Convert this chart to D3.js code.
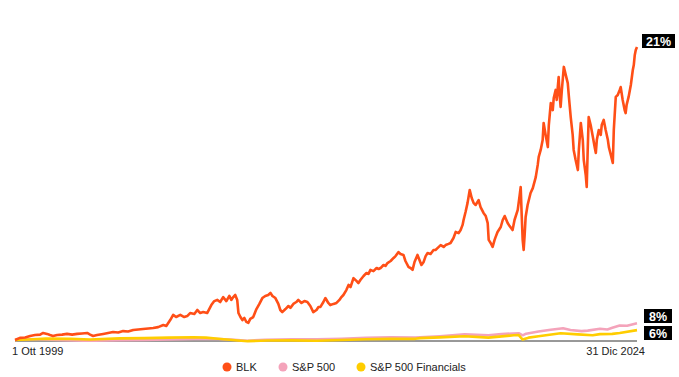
<!DOCTYPE html>
<html>
<head>
<meta charset="utf-8">
<script src="https://cdn.jsdelivr.net/npm/d3@7"></script>
<style>
  body { margin: 0; background: #fff; }
  #grafica { width: 679px; height: 377px; }
  text { font-family: 'Liberation Sans', Arial, sans-serif; }
</style>
</head>
<body>
<div id="grafica"></div>
<script>
// serie: [anno decimale, rendimento cumulato (multiplo - 1)]
blk = [
  [1999.75, 0], [1999.95, 0.9], [2000.16, 1.1], [2000.36, 1.7], [2000.56, 2.1], [2000.77, 2.3],
  [2000.89, 3.0], [2001.05, 2.6], [2001.17, 2.1], [2001.29, 1.7], [2001.46, 2.1], [2001.66, 2.3],
  [2001.86, 2.6], [2002.07, 2.3], [2002.27, 2.6], [2002.47, 2.8], [2002.68, 3.0], [2002.80, 2.3],
  [2002.92, 1.7], [2003.08, 2.1], [2003.33, 2.6], [2003.53, 3.0], [2003.73, 3.4], [2003.94, 3.2],
  [2004.14, 3.8], [2004.34, 3.6], [2004.55, 4.3], [2004.75, 4.5], [2004.95, 4.7], [2005.16, 4.9],
  [2005.36, 5.1], [2005.56, 5.5], [2005.77, 6.4], [2005.89, 6.0], [2006.05, 8.5], [2006.17, 10.7],
  [2006.29, 9.8], [2006.46, 10.7], [2006.62, 9.8], [2006.74, 10.2], [2006.86, 11.5], [2007.03, 11.1],
  [2007.15, 12.8], [2007.27, 11.5], [2007.39, 11.9], [2007.55, 11.5], [2007.72, 14.9], [2007.84, 16.6],
  [2007.96, 17.1], [2008.08, 16.2], [2008.20, 18.3], [2008.33, 16.6], [2008.45, 18.8], [2008.53, 17.1],
  [2008.61, 18.3], [2008.69, 19.2], [2008.77, 17.1], [2008.82, 11.5], [2008.90, 9.8], [2008.98, 8.5],
  [2009.06, 9.4], [2009.14, 7.7], [2009.22, 7.3], [2009.30, 9.0], [2009.42, 9.8], [2009.55, 13.2],
  [2009.67, 15.4], [2009.79, 17.9], [2009.91, 18.8], [2010.03, 19.2], [2010.12, 20.1], [2010.20, 18.8],
  [2010.32, 17.9], [2010.44, 15.4], [2010.52, 12.8], [2010.60, 11.9], [2010.73, 13.2], [2010.85, 14.5],
  [2010.93, 13.7], [2011.05, 15.4], [2011.17, 16.2], [2011.25, 17.1], [2011.38, 15.8], [2011.50, 16.6],
  [2011.62, 16.2], [2011.74, 14.5], [2011.86, 11.9], [2011.99, 12.8], [2012.07, 14.1], [2012.15, 14.1],
  [2012.27, 16.2], [2012.35, 17.9], [2012.47, 15.8], [2012.55, 14.9], [2012.68, 15.4], [2012.80, 15.8],
  [2012.92, 17.1], [2013.00, 18.3], [2013.08, 19.2], [2013.20, 21.3], [2013.29, 23.5], [2013.37, 22.6],
  [2013.49, 26.4], [2013.61, 25.2], [2013.69, 24.3], [2013.77, 25.6], [2013.90, 27.3], [2014.02, 28.6],
  [2014.10, 28.2], [2014.18, 29.9], [2014.30, 29.4], [2014.43, 30.7], [2014.51, 30.3], [2014.59, 30.7],
  [2014.71, 32.0], [2014.79, 31.6], [2014.87, 32.8], [2015.00, 33.7], [2015.12, 35.0], [2015.20, 35.8],
  [2015.32, 37.5], [2015.40, 36.7], [2015.52, 36.3], [2015.60, 33.7], [2015.73, 31.1], [2015.81, 30.7],
  [2015.89, 29.9], [2015.97, 33.3], [2016.09, 36.3], [2016.17, 34.1], [2016.25, 32.0], [2016.34, 33.3],
  [2016.42, 35.8], [2016.50, 37.1], [2016.62, 36.7], [2016.74, 38.4], [2016.82, 38.4], [2016.90, 39.2],
  [2017.03, 40.5], [2017.15, 39.7], [2017.23, 40.5], [2017.35, 41.0], [2017.43, 41.4], [2017.55, 43.5],
  [2017.64, 46.1], [2017.76, 45.6], [2017.84, 46.9], [2017.92, 49.1], [2017.96, 51.2], [2018.04, 54.6],
  [2018.12, 58.4], [2018.21, 64.0], [2018.29, 60.6], [2018.37, 58.4], [2018.45, 57.6], [2018.57, 59.7],
  [2018.65, 56.7], [2018.77, 54.2], [2018.86, 52.9], [2018.94, 49.9], [2018.98, 42.7], [2019.06, 41.4],
  [2019.14, 39.7], [2019.22, 42.7], [2019.26, 43.9], [2019.34, 46.1], [2019.47, 48.2], [2019.55, 51.2],
  [2019.63, 52.9], [2019.75, 49.9], [2019.83, 48.6], [2019.95, 46.9], [2020.03, 51.2], [2020.16, 55.5],
  [2020.24, 61.9], [2020.28, 65.3], [2020.32, 53.3], [2020.36, 42.7], [2020.40, 38.4], [2020.44, 44.8],
  [2020.48, 52.5], [2020.56, 57.6], [2020.68, 62.7], [2020.77, 64.8], [2020.89, 69.5], [2020.97, 74.7],
  [2021.01, 78.1], [2021.09, 81.1], [2021.17, 85.3], [2021.21, 92.6], [2021.29, 87.5], [2021.38, 82.3],
  [2021.42, 91.7], [2021.50, 101.1], [2021.58, 98.1], [2021.62, 103.2], [2021.70, 106.7], [2021.74, 102.4],
  [2021.82, 112.2], [2021.86, 104.5], [2021.90, 99.4], [2021.95, 106.7], [2022.03, 116.5], [2022.11, 113.0],
  [2022.19, 109.6], [2022.23, 104.5], [2022.31, 95.1], [2022.39, 87.5], [2022.43, 81.1], [2022.51, 76.8],
  [2022.60, 72.5], [2022.64, 81.1], [2022.72, 92.6], [2022.80, 85.3], [2022.84, 76.8], [2022.92, 70.4],
  [2022.96, 65.3], [2023.00, 81.1], [2023.04, 95.1], [2023.12, 91.7], [2023.21, 86.6], [2023.29, 81.9],
  [2023.33, 79.8], [2023.37, 85.3], [2023.45, 89.6], [2023.53, 87.5], [2023.57, 91.7], [2023.65, 93.9],
  [2023.73, 89.6], [2023.82, 85.3], [2023.86, 82.3], [2023.94, 78.9], [2024.02, 75.5], [2024.06, 89.6],
  [2024.14, 103.7], [2024.22, 104.5], [2024.30, 106.7], [2024.34, 107.9], [2024.42, 102.4], [2024.50, 98.1],
  [2024.54, 96.8], [2024.58, 100.3], [2024.66, 103.7], [2024.75, 108.8], [2024.83, 115.2], [2024.87, 117.3],
  [2024.91, 121.6], [2024.95, 123.7], [2025.00, 125.0]
]

sp500 = [
  [1999.75, 0], [2000.2, 0.4], [2000.7, 0.3], [2001.5, 0.0], [2002.5, -0.25], [2003.0, -0.3],
  [2004.0, -0.05], [2005.0, 0.05], [2006.0, 0.2], [2007.0, 0.4], [2007.8, 0.55], [2008.5, 0.2],
  [2009.2, -0.3], [2009.9, 0.05], [2011.0, 0.25], [2012.0, 0.3], [2013.0, 0.5], [2014.0, 0.9],
  [2015.0, 1.1], [2016.0, 1.0], [2017.0, 1.6], [2018.0, 2.4], [2018.97, 2.0], [2019.5, 2.5],
  [2020.2, 2.9], [2020.36, 2.0], [2020.5, 2.7], [2021.0, 3.6], [2021.5, 4.4], [2022.0, 5.0],
  [2022.3, 4.3], [2022.75, 3.8], [2023.0, 4.0], [2023.5, 4.8], [2023.8, 4.5], [2024.0, 5.2],
  [2024.3, 6.2], [2024.6, 6.1], [2025.0, 7.1]
]

financials = [
  [1999.75, 0], [2000.5, 0.3], [2001.0, 0.6], [2002.0, 0.5], [2002.8, 0.2], [2004.0, 0.7],
  [2005.0, 0.8], [2006.0, 1.0], [2007.0, 1.2], [2007.5, 1.0], [2008.0, 0.5], [2008.8, -0.2],
  [2009.2, -0.5], [2010.0, -0.2], [2011.0, -0.15], [2012.0, -0.3], [2013.0, 0.0], [2014.0, 0.3],
  [2015.0, 0.5], [2016.0, 0.5], [2016.2, 0.8], [2017.0, 1.1], [2018.0, 1.6], [2018.97, 1.0],
  [2020.0, 2.0], [2020.2, 2.1], [2020.36, 0.2], [2020.6, 1.0], [2021.0, 1.6], [2021.9, 2.9],
  [2022.6, 2.4], [2023.2, 2.0], [2023.5, 2.5], [2024.0, 2.6], [2024.3, 3.0], [2025.0, 4.2]
]

nomi      = ['BLK', 'S&P 500', 'S&P 500 Financials']
colori    = ['#ff4f17', '#f4a3ba', '#ffcd00']
etichette = ['21%', '8%', '6%']
dataInizio = '1 Ott 1999'
dataFine   = '31 Dic 2024'

ancho_total = 679
alto_total  = 377

svg = d3
        .select('#grafica')
        .append('svg')
        .attr('width', ancho_total)
        .attr('height', alto_total)

function toDate(t) {
  anno = Math.floor(t)
  ini = new Date(anno, 0, 1)
  fin = new Date(anno + 1, 0, 1)
  return new Date(+ini + (t - anno) * (fin - ini))
}

x = d3.scaleTime()
      .domain([toDate(1999.75), toDate(2025.0)])
      .range([15, 637])

y = d3.scaleLinear()
      .domain([0, 125])
      .range([340, 47])

linea = d3.line()
          .x((d) => x(toDate(d[0])))
          .y((d) => y(d[1]))

// linea di base
svg.append('line')
    .attr('x1', x.range()[0])
    .attr('x2', x.range()[1])
    .attr('y1', y(0) + 1)
    .attr('y2', y(0) + 1)
    .attr('stroke', '#333')
    .attr('stroke-width', 1)

serie = [sp500, financials, blk]
ordine = [1, 2, 0]

svg.selectAll('path.serie')
    .data(serie)
    .enter()
    .append('path')
      .attr('class', 'serie')
      .attr('d', (d) => linea(d))
      .attr('fill', 'none')
      .attr('stroke', (d, i) => colori[ordine[i]])
      .attr('stroke-width', 2.6)
      .attr('stroke-linejoin', 'round')

// etichette finali
fine = [blk, sp500, financials].map((s) => s[s.length - 1][1])
hBox = 14
yCentri = [y(fine[0]) - 6, y(0) - hBox - 3 - hBox / 2, y(0) - hBox / 2]
wBox = [33, 28, 28]

etich = svg.selectAll('g.etich')
            .data(etichette)
            .enter()
            .append('g')
              .attr('class', 'etich')
              .attr('transform', (d, i) => `translate(${x.range()[1] + 5 + (i == 0 ? 0 : 2)}, ${yCentri[i]})`)

etich.append('rect')
      .attr('x', 0)
      .attr('y', -hBox / 2)
      .attr('width', (d, i) => wBox[i])
      .attr('height', hBox)
      .attr('fill', '#000')

etich.append('text')
      .attr('x', (d, i) => wBox[i] / 2)
      .attr('y', 4.5)
      .attr('text-anchor', 'middle')
      .attr('font-size', '12.5px')
      .attr('font-weight', 'bold')
      .attr('fill', '#fff')
      .text((d) => d)

// date agli estremi
svg.append('text')
    .attr('x', x.range()[0] - 3)
    .attr('y', 355)
    .attr('font-size', '11px')
    .attr('fill', '#222')
    .text(dataInizio)

svg.append('text')
    .attr('x', x.range()[1] + 8)
    .attr('y', 355)
    .attr('text-anchor', 'end')
    .attr('font-size', '11px')
    .attr('fill', '#222')
    .text(dataFine)

// legenda
legX = [227, 283, 361]
leg = svg.selectAll('g.leg')
          .data(nomi)
          .enter()
          .append('g')
            .attr('class', 'leg')
            .attr('transform', (d, i) => `translate(${legX[i]}, 367)`)

leg.append('circle')
    .attr('r', 4.5)
    .attr('fill', (d, i) => colori[i])

leg.append('text')
    .attr('x', 9)
    .attr('y', 4)
    .attr('font-size', '11px')
    .attr('fill', '#222')
    .text((d) => d)
</script>
</body>
</html>
